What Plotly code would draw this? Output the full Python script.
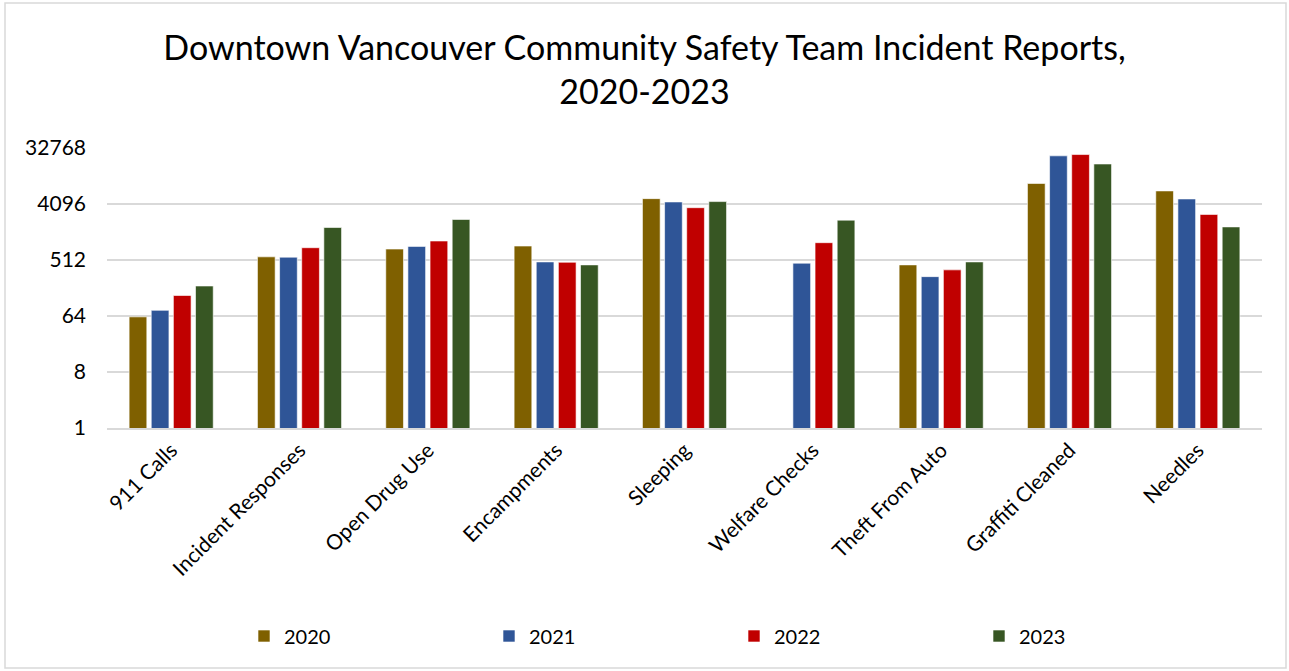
import plotly.graph_objects as go

categories = ["911 Calls", "Incident Responses", "Open Drug Use", "Encampments", "Sleeping",
              "Welfare Checks", "Theft From Auto", "Graffiti Cleaned", "Needles"]
years = ["2020", "2021", "2022", "2023"]
v2020 = [62, 576, 769, 860, 5000, None, 427, 8780, 6660]
v2021 = [79, 569, 849, 477, 4420, 455, 276, 24500, 4940]
v2022 = [137, 808, 1037, 471, 3570, 974, 355, 25700, 2780]
v2023 = [195, 1710, 2306, 427, 4480, 2250, 477, 18100, 1750]
series = [v2020, v2021, v2022, v2023]
colors = ["#7F6000", "#2F5597", "#C00000", "#375623"]
tickvals = [1, 8, 64, 512, 4096, 32768]

W, H = 1289, 671
ml, mr, mt, mb = 107, 27, 148, 243
pw, ph = W - ml - mr, H - mt - mb

fig = go.Figure()
for name, vals, c in zip(years, series, colors):
    fig.add_trace(go.Bar(x=categories, y=vals, name=name,
                         marker=dict(color=c, line=dict(color="rgba(255,255,255,0.6)", width=1))))

font = "Lato, 'Open Sans', sans-serif"
fig.update_layout(
    width=W, height=H,
    margin=dict(l=ml, r=mr, t=mt, b=mb, autoexpand=False),
    paper_bgcolor="white", plot_bgcolor="white",
    barmode="group", bargap=0.31, bargroupgap=0.2,
    title=dict(text="Downtown Vancouver Community Safety Team Incident Reports,<br>2020-2023",
               x=0.5, xanchor="center", y=1 - 60 / H, yanchor="middle",
               font=dict(family=font, size=34, color="#000000")),
    font=dict(family=font, color="#000000"),
    legend=dict(orientation="h", x=(244 - ml) / pw, xanchor="left", y=-(636 - 428) / ph, yanchor="middle",
                entrywidth=200, entrywidthmode="pixels",
                font=dict(size=20, color="#000000"), traceorder="normal", itemclick=False),
    showlegend=True,
)
fig.update_xaxes(tickangle=-45, tickfont=dict(size=21), showgrid=False,
                 showline=True, linecolor="#D9D9D9", linewidth=1.5, ticks="")
fig.update_yaxes(type="log", range=[0, 4.5154], tickvals=tickvals,
                 ticktext=[str(v) for v in tickvals], tickfont=dict(size=21),
                 showgrid=True, gridcolor="#D9D9D9", gridwidth=1.5,
                 zeroline=False, showline=False, ticks="", ticklabelstandoff=20)
fig.add_shape(type="rect", xref="paper", yref="paper",
              x0=(5 - ml) / pw, x1=(W - 3 - ml) / pw,
              y0=-(H - 3 - mt - ph) / ph, y1=1 + (mt - 3) / ph,
              line=dict(color="#D9D9D9", width=1.5), fillcolor="rgba(0,0,0,0)", layer="below")
fig.write_html("out.html", config={"displayModeBar": False},
               post_script="document.body.style.margin='0';document.body.style.overflow='hidden';")
